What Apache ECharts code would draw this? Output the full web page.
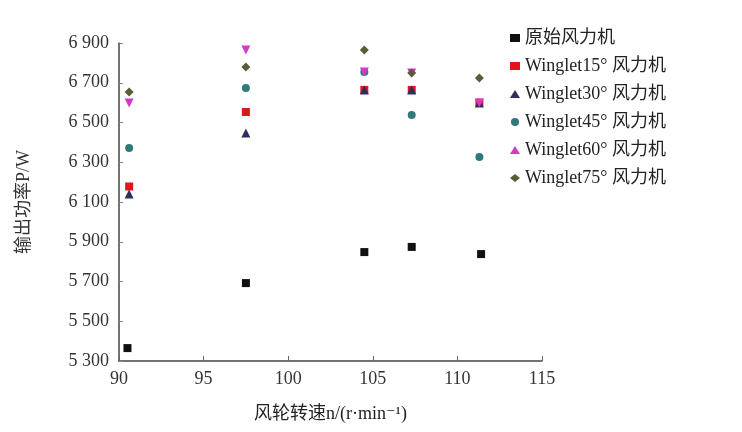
<!DOCTYPE html>
<html>
<head>
<meta charset="utf-8">
<style>
  html, body { margin: 0; padding: 0; background: #fff; }
  #main { width: 742px; height: 432px; }
</style>
<script src="https://cdn.jsdelivr.net/npm/echarts@6/dist/echarts.min.js"></script>
</head>
<body>
<div id="main"></div>
<script>
// data: [speed r/min, power W]
var seriesNames = ['原始风力机', 'Winglet15° 风力机', 'Winglet30° 风力机',
    'Winglet45° 风力机', 'Winglet60° 风力机', 'Winglet75° 风力机'];
var base = [[90.5, 5365], [97.5, 5692], [104.5, 5848], [107.3, 5874], [111.4, 5838]];
var w15 = [[90.6, 6178], [97.5, 6553], [104.5, 6664], [107.3, 6664], [111.3, 6600]];
var w30 = [[90.6, 6140], [97.5, 6447], [104.5, 6664], [107.3, 6664], [111.3, 6598]];
var w45 = [[90.6, 6372], [97.5, 6674], [104.5, 6754], [107.3, 6538], [111.3, 6326]];
var w60 = [[90.6, 6598], [97.5, 6865], [104.5, 6754], [107.3, 6749], [111.3, 6598]];
var w75 = [[90.6, 6653], [97.5, 6779], [104.5, 6865], [107.3, 6749], [111.3, 6724]];
var yTicks = [5300, 5500, 5700, 5900, 6100, 6300, 6500, 6700, 6900];

var serif = '"Liberation Serif", "DejaVu Serif", "Noto Sans CJK SC", serif';

var chart = echarts.init(document.getElementById('main'));

function mk(name, data, symbol, size, color, rotate) {
    return {
        name: name,
        type: 'scatter',
        data: data,
        symbol: symbol,
        symbolSize: size,
        symbolRotate: rotate || 0,
        itemStyle: { color: color, opacity: 1 }
    };
}

var option = {
    animation: false,
    textStyle: { fontFamily: serif },
    grid: { left: 119, right: 200, top: 43, bottom: 71 },
    legend: {
        orient: 'vertical',
        left: 505,
        top: 24,
        itemGap: 10,
        itemWidth: 10,
        itemHeight: 8,
        textStyle: { fontFamily: serif, fontSize: 18, color: '#222' },
        data: seriesNames
    },
    xAxis: {
        type: 'value',
        min: 90,
        max: 115,
        interval: 5,
        name: '风轮转速n/(r·min⁻¹)',
        nameLocation: 'middle',
        nameGap: 44,
        nameTextStyle: { fontFamily: serif, fontSize: 18, color: '#222' },
        axisLine: { lineStyle: { color: '#444', width: 1.5 } },
        axisTick: { inside: true, length: 5, lineStyle: { color: '#666' } },
        axisLabel: { fontFamily: serif, fontSize: 18, color: '#333', margin: 9 },
        splitLine: { show: false }
    },
    yAxis: {
        type: 'value',
        min: yTicks[0],
        max: yTicks[yTicks.length - 1],
        interval: 200,
        name: '输出功率P/W',
        nameLocation: 'middle',
        nameGap: 86,
        nameTextStyle: { fontFamily: serif, fontSize: 18, color: '#333' },
        axisLine: { show: true, lineStyle: { color: '#444', width: 1.5 } },
        axisTick: { show: true, inside: true, length: 4, lineStyle: { color: '#888' } },
        axisLabel: {
            fontFamily: serif, fontSize: 18, color: '#333', margin: 10,
            formatter: function(v) {
                var s = String(v);
                return s.slice(0, 1) + ' ' + s.slice(1);
            }
        },
        splitLine: { show: false }
    },
    series: [
        mk(seriesNames[0], base, 'rect', 8, '#111'),
        mk(seriesNames[1], w15, 'rect', 8, '#e0161a'),
        mk(seriesNames[2], w30, 'triangle', 9, '#2b2f5a'),
        mk(seriesNames[3], w45, 'circle', 8, '#2f7a78'),
        mk(seriesNames[4], w60, 'triangle', 9, '#d23cc4', 180),
        mk(seriesNames[5], w75, 'diamond', 9, '#5d5a3a')
    ]
};

chart.setOption(option);
</script>
</body>
</html>
